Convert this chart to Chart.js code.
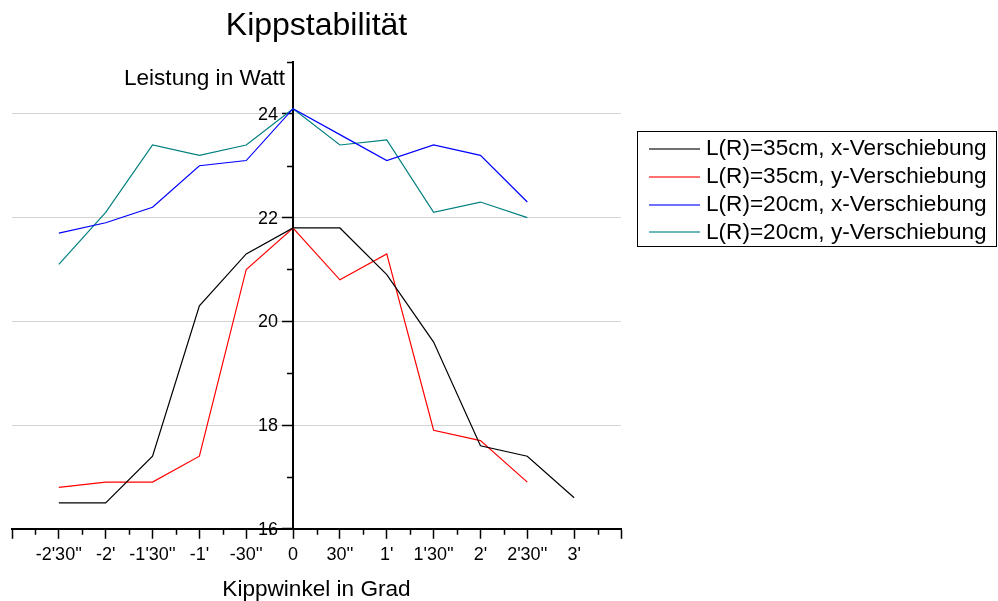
<!DOCTYPE html>
<html lang="de">
<head>
<meta charset="utf-8">
<title>Kippstabilität</title>
<script src="https://cdn.jsdelivr.net/npm/chart.js@4/dist/chart.umd.min.js"></script>
<style>
  html, body { margin: 0; padding: 0; background: #ffffff; }
  #chart { display: block; }
</style>
</head>
<body>
<canvas id="chart" width="998" height="601"></canvas>
<script>
// Kippwinkel in Bogensekunden (30'' Schritte)
const angles = [-150, -120, -90, -60, -30, 0, 30, 60, 90, 120, 150, 180];

// Leistung in Watt je Messreihe
const r35x = [16.5, 16.5, 17.4, 20.3, 21.3, 21.8, 21.8, 20.9, 19.6, 17.6, 17.4, 16.6];
const r35y = [16.8, 16.9, 16.9, 17.4, 21.0, 21.8, 20.8, 21.3, 17.9, 17.7, 16.9];
const r20x = [21.7, 21.9, 22.2, 23.0, 23.1, 24.1, 23.6, 23.1, 23.4, 23.2, 22.3];
const r20y = [21.1, 22.1, 23.4, 23.2, 23.4, 24.1, 23.4, 23.5, 22.1, 22.3, 22.0];

const seriesLabels = [
  'L(R)=35cm, x-Verschiebung',
  'L(R)=35cm, y-Verschiebung',
  'L(R)=20cm, x-Verschiebung',
  'L(R)=20cm, y-Verschiebung'
];
const seriesColors = ['#000000', '#ff0000', '#0000ff', '#008080'];

// Beschriftung der Hauptstriche von -3' bis 3'30'' (alle 30'')
const xTickLabels = ["", "-2'30''", "-2'", "-1'30''", "-1'", "-30''", "0",
                     "30''", "1'", "1'30''", "2'", "2'30''", "3'", ""];
const yTickLabels = { 16: '16', 18: '18', 20: '20', 22: '22', 24: '24' };
const yGridValues = [18, 20, 22, 24];

const FONT = '"Liberation Sans", Arial, Helvetica, sans-serif';

function toPoints(values) {
  return values.map((v, i) => ({ x: angles[i], y: v }));
}

const allSeries = [r35x, r35y, r20x, r20y];
const datasets = allSeries.map((vals, i) => ({
  label: seriesLabels[i],
  data: toPoints(vals),
  borderColor: seriesColors[i],
  backgroundColor: seriesColors[i],
  borderWidth: 1.2,
  pointRadius: 0,
  pointHoverRadius: 0,
  tension: 0,
  fill: false
}));

// Zwischenstriche (halbe Teilung) auf beiden Achsen
const minorTicks = {
  id: 'minorTicks',
  afterDraw(chart) {
    const { ctx, chartArea } = chart;
    const xs = chart.scales.x, ys = chart.scales.y;
    ctx.save();
    ctx.strokeStyle = '#000';
    ctx.lineWidth = 1.5;
    ctx.beginPath();
    for (let v = -165; v <= 210; v += 30) {
      const px = Math.round(xs.getPixelForValue(v)) + 0.5;
      ctx.moveTo(px, chartArea.bottom);
      ctx.lineTo(px, chartArea.bottom + 6);
    }
    const axisX = xs.getPixelForValue(0);
    for (let v = 17; v <= 25; v += 2) {
      const py = Math.round(ys.getPixelForValue(v)) + 0.5;
      ctx.moveTo(axisX, py);
      ctx.lineTo(axisX - 6, py);
    }
    ctx.stroke();
    ctx.restore();
  }
};

// Beschriftung der Leistungsachse: Zahlen links der Achse, Titel waagerecht oben
const yAxisText = {
  id: 'yAxisText',
  afterDraw(chart) {
    const { ctx } = chart;
    const xs = chart.scales.x, ys = chart.scales.y;
    const axisX = xs.getPixelForValue(0);
    ctx.save();
    ctx.fillStyle = '#000';
    ctx.font = '18px ' + FONT;
    ctx.textAlign = 'right';
    ctx.textBaseline = 'middle';
    ys.ticks.forEach(t => {
      const lbl = yTickLabels[t.value];
      if (lbl) ctx.fillText(lbl, axisX - 15, ys.getPixelForValue(t.value) + 1);
    });
    ctx.font = '22.6px ' + FONT;
    ctx.textBaseline = 'alphabetic';
    ctx.fillText('Leistung in Watt', axisX - 8, ys.getPixelForValue(25) + 22.5);
    ctx.restore();
  }
};

// Legendenkasten rechts neben dem Diagramm
const boxLegend = {
  id: 'boxLegend',
  afterDraw(chart) {
    const { ctx } = chart;
    const left = 637.5, top = 131.5, bottom = 246.5, right = 996.5;
    ctx.save();
    ctx.strokeStyle = '#000';
    ctx.lineWidth = 1;
    ctx.strokeRect(left, top, right - left, bottom - top);
    ctx.font = '22.6px ' + FONT;
    ctx.textAlign = 'left';
    ctx.textBaseline = 'middle';
    chart.data.datasets.forEach((ds, i) => {
      const y = 149.2 + i * 27.7;
      ctx.strokeStyle = ds.borderColor;
      ctx.globalAlpha = 0.75;
      ctx.lineWidth = 1.6;
      ctx.beginPath();
      ctx.moveTo(649, Math.round(y));
      ctx.lineTo(700, Math.round(y));
      ctx.stroke();
      ctx.globalAlpha = 1;
      ctx.fillStyle = '#000';
      ctx.fillText(ds.label, 706, y);
    });
    ctx.restore();
  }
};

new Chart(document.getElementById('chart'), {
  type: 'line',
  data: { datasets },
  options: {
    responsive: false,
    devicePixelRatio: 1,
    animation: false,
    events: [],
    layout: { padding: { left: 12, right: 377, top: 0, bottom: 0 } },
    plugins: {
      legend: { display: false },
      tooltip: { enabled: false },
      title: {
        display: true,
        text: 'Kippstabilität',
        color: '#000',
        font: { family: FONT, size: 32, weight: 'normal', lineHeight: 1 },
        padding: { top: 10, bottom: 20 }
      }
    },
    scales: {
      x: {
        type: 'linear',
        position: 'bottom',
        min: -180,
        max: 210,
        afterBuildTicks(scale) {
          scale.ticks = xTickLabels.map((_, i) => ({ value: -180 + 30 * i }));
        },
        ticks: {
          autoSkip: false,
          maxRotation: 0,
          padding: 5,
          color: '#000',
          font: { family: FONT, size: 18 },
          callback: (value, index) => xTickLabels[index]
        },
        grid: {
          drawOnChartArea: false,
          drawTicks: true,
          tickLength: 10,
          tickColor: '#000',
          tickWidth: 1.5
        },
        border: { display: true, color: '#000', width: 2 },
        title: {
          display: true,
          text: 'Kippwinkel in Grad',
          color: '#000',
          font: { family: FONT, size: 22.6, lineHeight: 1 },
          padding: { top: 8, bottom: 0 }
        }
      },
      y: {
        type: 'linear',
        position: { x: 0 },
        min: 16,
        max: 25,
        ticks: {
          display: false,
          stepSize: 1,
          autoSkip: false
        },
        grid: {
          drawOnChartArea: true,
          drawTicks: true,
          tickLength: 10,
          tickWidth: 1.5,
          lineWidth: 1,
          color: (c) => (c.tick && yGridValues.includes(c.tick.value)) ? '#d3d3d3' : 'rgba(0,0,0,0)',
          tickColor: (c) => (c.tick && c.tick.value % 2 === 0 && c.tick.value < 25) ? '#000' : 'rgba(0,0,0,0)'
        },
        border: { display: true, color: '#000', width: 2 }
      }
    }
  },
  plugins: [minorTicks, yAxisText, boxLegend]
});
</script>
</body>
</html>
